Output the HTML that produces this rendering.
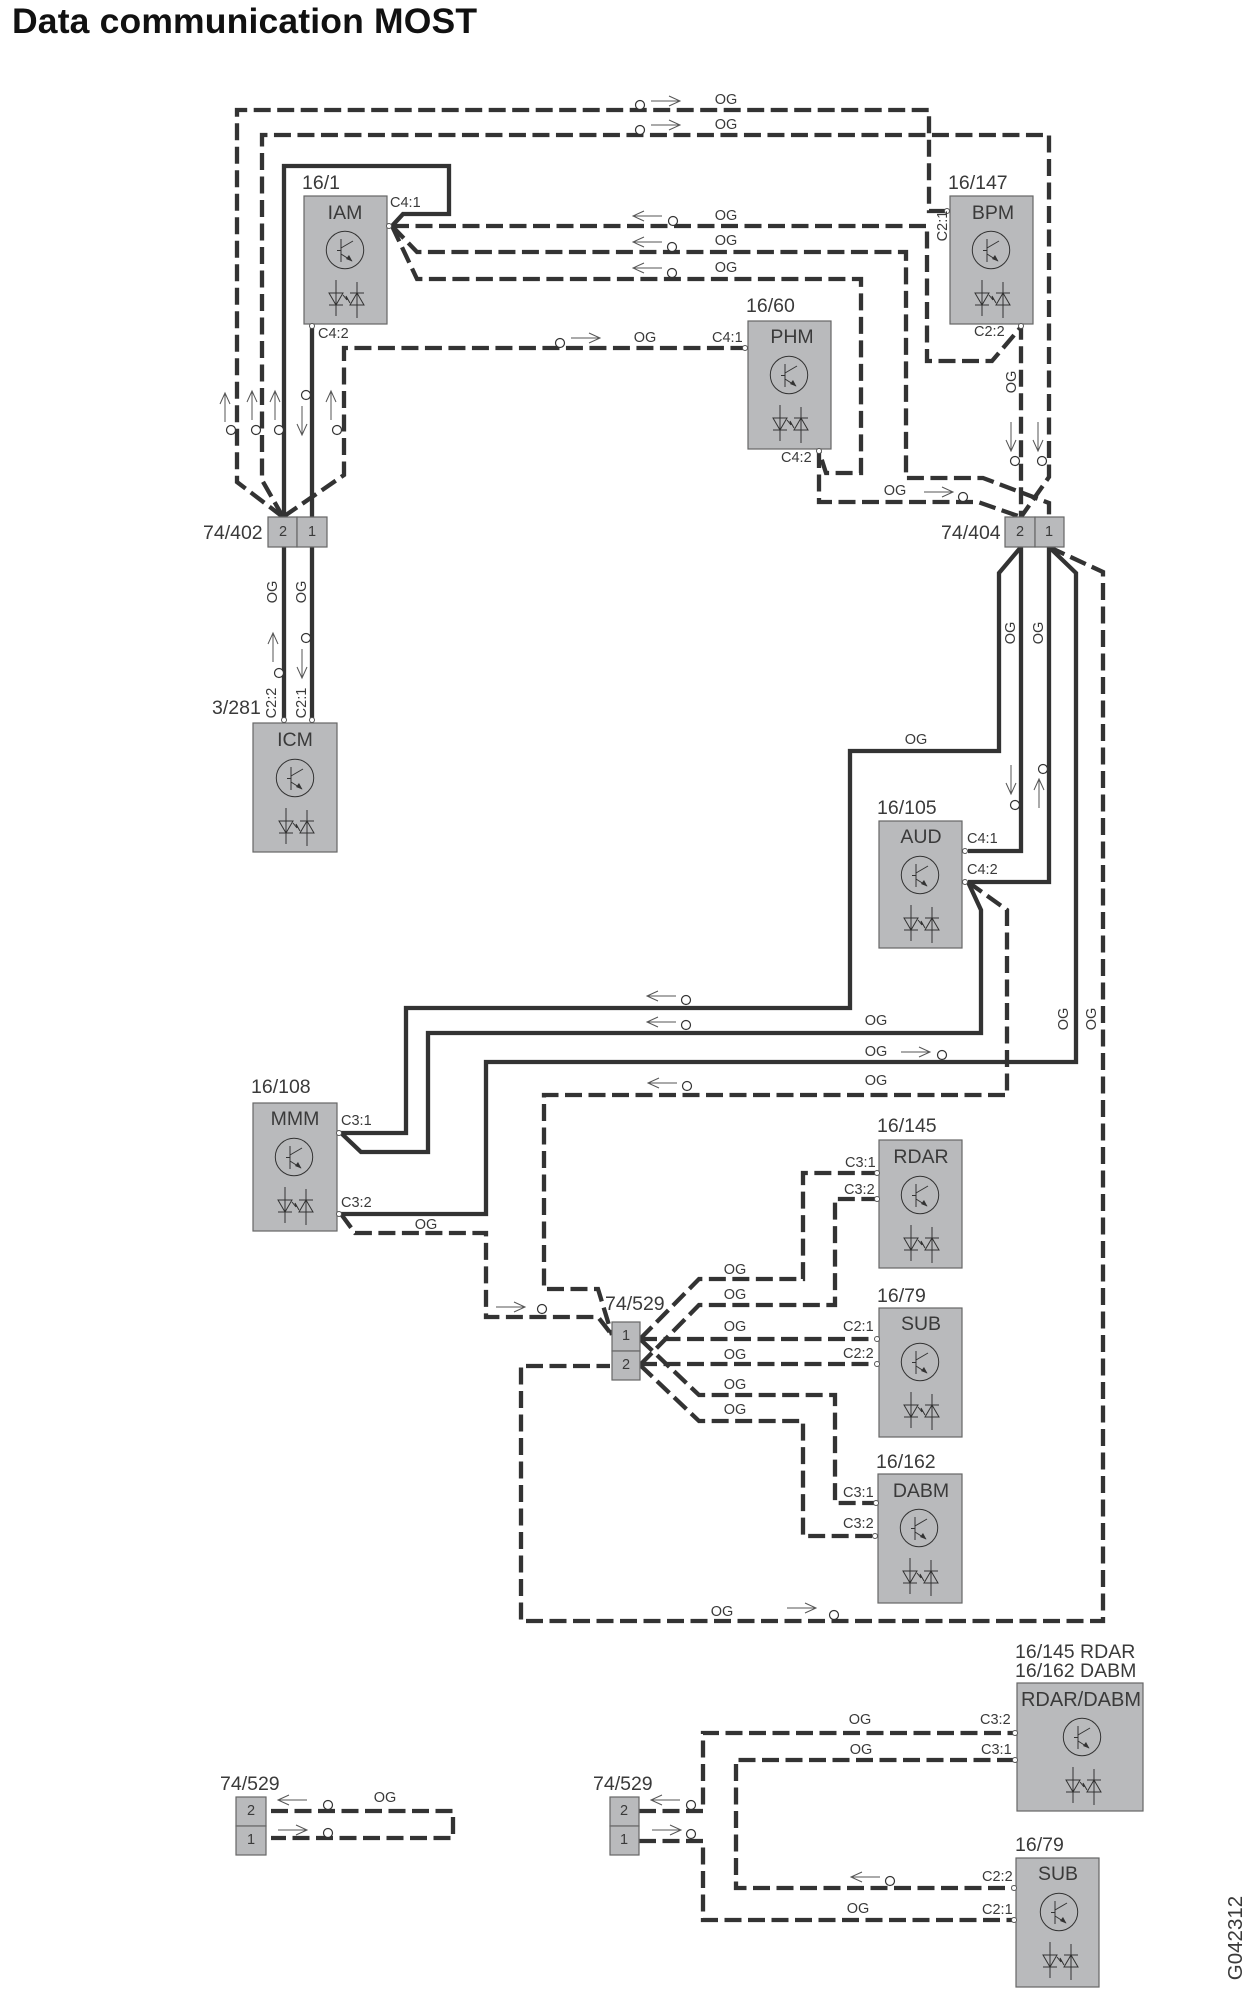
<!DOCTYPE html>
<html><head><meta charset="utf-8"><title>Data communication MOST</title>
<style>
html,body{margin:0;padding:0;background:#fff}
svg{display:block}
text{font-family:"Liberation Sans",sans-serif;fill:#3a3a3a}
.d{fill:none;stroke:#333;stroke-width:4.300;stroke-dasharray:17 6.5}
.s{fill:none;stroke:#333;stroke-width:4.300}
.l{font-size:19.500px}
.n{font-size:19.500px;text-anchor:middle}
.o{font-size:14.500px;text-anchor:middle;dominant-baseline:central}
.c{font-size:14.500px;dominant-baseline:central}
.cc{font-size:14.500px;text-anchor:middle;dominant-baseline:central}
.box{fill:#b9babc;stroke:#666;stroke-width:1.2}
.sig{fill:#fff;stroke:#333;stroke-width:1.2}
.pin{fill:#fff;stroke:#555;stroke-width:1}
.th{fill:none;stroke:#555;stroke-width:1}
.sy{fill:none;stroke:#333;stroke-width:1}
</style></head><body>
<svg width="1260" height="2000" viewBox="0 0 1260 2000" xmlns="http://www.w3.org/2000/svg">
<defs>
<g id="ar"><path class="th" d="M0 0H29M18 -5L29 0L18 5"/></g>
<g id="sym">
<circle class="sy" cx="41" cy="54" r="18.7"/>
<path class="sy" d="M37 43V66M33 54.5H37M37 52L49 45M37 58L48 65"/>
<path d="M48.500 65.500L42 63L45 59Z" fill="#333"/>
<path class="sy" d="M32 84V120M25 97H39L32 109ZM25 109H39M53 86V122M46 109H60L53 97ZM46 97H60M39 99L43 104L42 100L46 107"/>
</g>
</defs>
<text x="12" y="33" font-size="35.500" font-weight="bold" textLength="465" style="fill:#111">Data communication MOST</text>

<!-- wires -->
<path class="d" d="M283 517L237 482V110H929V211H947"/>
<path class="d" d="M283 517L262 480V135H1049V477L1021 517"/>
<path class="s" d="M284 517V166H449V214H403L392 226"/>
<path class="d" d="M392 226H927V361H992L1021 327V517"/>
<path class="d" d="M392 226L417 252H906V478H983L1049 503V517"/>
<path class="d" d="M392 226L417 279H861V473H826L819 451"/>
<path class="d" d="M819 451V502H978L1021 517"/>
<path class="s" d="M312 326V517"/>
<path class="d" d="M283 517L344 475V348H743"/>
<path class="s" d="M284 547V720M312 547V720"/>
<path class="s" d="M1021 547L999 573V751H850V1008H406V1133H341"/>
<path class="s" d="M1021 547V851H968"/>
<path class="s" d="M1049 547V882H968"/>
<path class="s" d="M1049 547L1076 573V1062H486V1214H341"/>
<path class="d" d="M1049 547L1103 572V1621H521V1366H610"/>
<path class="s" d="M968 882L981 910V1033H428V1152H361L341 1133"/>
<path class="d" d="M968 882L1007 910V1095H544V1289H598L612 1335"/>
<path class="d" d="M341 1214L355 1233H486V1317H598L612 1335"/>
<path class="d" d="M640 1339L699 1279H803V1173H875"/>
<path class="d" d="M640 1365L699 1305H835V1199H875"/>
<path class="d" d="M640 1339H875M640 1364H875"/>
<path class="d" d="M640 1339L699 1395H835V1503H875"/>
<path class="d" d="M640 1365L699 1421H803V1536H873"/>
<path class="d" d="M271 1811H453V1838H271"/>
<path class="d" d="M639 1811H703V1733H1014"/>
<path class="d" d="M639 1841H703V1920H1014"/>
<path class="d" d="M1014 1760H736V1888H1014"/>

<!-- modules -->
<rect class="box" x="304" y="196" width="83" height="128"/><use href="#sym" x="304" y="196"/>
<rect class="box" x="950" y="196" width="83" height="128"/><use href="#sym" x="950" y="196"/>
<rect class="box" x="748" y="321" width="83" height="128"/><use href="#sym" x="748" y="321"/>
<rect class="box" x="253" y="723" width="84" height="129"/><use href="#sym" x="254" y="724"/>
<rect class="box" x="879" y="821" width="83" height="127"/><use href="#sym" x="879" y="821"/>
<rect class="box" x="253" y="1103" width="84" height="128"/><use href="#sym" x="253" y="1103"/>
<rect class="box" x="879" y="1140" width="83" height="128"/><use href="#sym" x="879" y="1141"/>
<rect class="box" x="879" y="1308" width="83" height="129"/><use href="#sym" x="879" y="1308"/>
<rect class="box" x="878" y="1474" width="84" height="129"/><use href="#sym" x="878" y="1474"/>
<rect class="box" x="1017" y="1683" width="126" height="128"/><use href="#sym" x="1041" y="1683"/>
<rect class="box" x="1016" y="1858" width="83" height="129"/><use href="#sym" x="1018" y="1858"/>

<!-- connectors -->
<rect class="box" x="268" y="517" width="29" height="30"/><rect class="box" x="297" y="517" width="30" height="30"/>
<rect class="box" x="1005" y="517" width="30" height="30"/><rect class="box" x="1035" y="517" width="29" height="30"/>
<rect class="box" x="612" y="1322" width="28" height="29"/><rect class="box" x="612" y="1351" width="28" height="29"/>
<rect class="box" x="236" y="1797" width="30" height="29"/><rect class="box" x="236" y="1826" width="30" height="29"/>
<rect class="box" x="610" y="1797" width="29" height="29"/><rect class="box" x="610" y="1826" width="29" height="29"/>
<text class="cc" x="283" y="532">2</text><text class="cc" x="312" y="532">1</text>
<text class="cc" x="1020" y="532">2</text><text class="cc" x="1049" y="532">1</text>
<text class="cc" x="626" y="1336">1</text><text class="cc" x="626" y="1365">2</text>
<text class="cc" x="251" y="1811">2</text><text class="cc" x="251" y="1840">1</text>
<text class="cc" x="624" y="1811">2</text><text class="cc" x="624" y="1840">1</text>

<!-- pins -->
<g class="pin">
<circle cx="389" cy="226" r="2.500"/><circle cx="312" cy="326" r="2.500"/><circle cx="947" cy="211" r="2.500"/><circle cx="1021" cy="326" r="2.500"/>
<circle cx="745" cy="348" r="2.500"/><circle cx="819" cy="451" r="2.500"/><circle cx="284" cy="720" r="2.500"/><circle cx="312" cy="720" r="2.500"/>
<circle cx="965" cy="851" r="2.500"/><circle cx="965" cy="882" r="2.500"/><circle cx="339" cy="1133" r="2.500"/><circle cx="339" cy="1214" r="2.500"/>
<circle cx="877" cy="1173" r="2.500"/><circle cx="877" cy="1199" r="2.500"/><circle cx="877" cy="1339" r="2.500"/><circle cx="877" cy="1364" r="2.500"/>
<circle cx="876" cy="1503" r="2.500"/><circle cx="875" cy="1536" r="2.500"/><circle cx="1015" cy="1733" r="2.500"/><circle cx="1015" cy="1760" r="2.500"/>
<circle cx="1014" cy="1888" r="2.500"/><circle cx="1014" cy="1920" r="2.500"/>
</g>

<!-- signal circles -->
<g class="sig">
<circle cx="640" cy="105" r="4.500"/><circle cx="640" cy="130" r="4.500"/><circle cx="673" cy="221" r="4.500"/><circle cx="672" cy="247" r="4.500"/><circle cx="672" cy="273" r="4.500"/>
<circle cx="560" cy="343" r="4.500"/><circle cx="231" cy="430" r="4.500"/><circle cx="256" cy="430" r="4.500"/><circle cx="279" cy="430" r="4.500"/><circle cx="306" cy="395" r="4.500"/><circle cx="337" cy="430" r="4.500"/>
<circle cx="1015" cy="461" r="4.500"/><circle cx="1042" cy="461" r="4.500"/><circle cx="963" cy="497" r="4.500"/>
<circle cx="279" cy="673" r="4.500"/><circle cx="306" cy="638" r="4.500"/>
<circle cx="1015" cy="805" r="4.500"/><circle cx="1043" cy="769" r="4.500"/>
<circle cx="686" cy="1000" r="4.500"/><circle cx="686" cy="1025" r="4.500"/><circle cx="942" cy="1055" r="4.500"/><circle cx="687" cy="1086" r="4.500"/>
<circle cx="542" cy="1309" r="4.500"/><circle cx="834" cy="1615" r="4.500"/>
<circle cx="328" cy="1805" r="4.500"/><circle cx="328" cy="1833" r="4.500"/><circle cx="691" cy="1805" r="4.500"/><circle cx="691" cy="1834" r="4.500"/><circle cx="890" cy="1881" r="4.500"/>
</g>

<!-- arrows -->
<use href="#ar" transform="translate(651 101)"/>
<use href="#ar" transform="translate(651 125)"/>
<use href="#ar" transform="translate(662 216) rotate(180)"/>
<use href="#ar" transform="translate(662 242) rotate(180)"/>
<use href="#ar" transform="translate(662 268) rotate(180)"/>
<use href="#ar" transform="translate(571 338)"/>
<use href="#ar" transform="translate(225 422) rotate(-90)"/>
<use href="#ar" transform="translate(252 420) rotate(-90)"/>
<use href="#ar" transform="translate(275 420) rotate(-90)"/>
<use href="#ar" transform="translate(302 406) rotate(90)"/>
<use href="#ar" transform="translate(331 420) rotate(-90)"/>
<use href="#ar" transform="translate(1011 422) rotate(90)"/>
<use href="#ar" transform="translate(1038 422) rotate(90)"/>
<use href="#ar" transform="translate(924 492)"/>
<use href="#ar" transform="translate(273 662) rotate(-90)"/>
<use href="#ar" transform="translate(302 649) rotate(90)"/>
<use href="#ar" transform="translate(1011 765) rotate(90)"/>
<use href="#ar" transform="translate(1039 808) rotate(-90)"/>
<use href="#ar" transform="translate(676 996) rotate(180)"/>
<use href="#ar" transform="translate(676 1022) rotate(180)"/>
<use href="#ar" transform="translate(901 1052)"/>
<use href="#ar" transform="translate(677 1083) rotate(180)"/>
<use href="#ar" transform="translate(496 1307)"/>
<use href="#ar" transform="translate(787 1608)"/>
<use href="#ar" transform="translate(307 1800) rotate(180)"/>
<use href="#ar" transform="translate(278 1830)"/>
<use href="#ar" transform="translate(680 1800) rotate(180)"/>
<use href="#ar" transform="translate(652 1830)"/>
<use href="#ar" transform="translate(880 1877) rotate(180)"/>

<!-- OG labels -->
<text class="o" x="726" y="100">OG</text><text class="o" x="726" y="125">OG</text>
<text class="o" x="726" y="216">OG</text><text class="o" x="726" y="241">OG</text><text class="o" x="726" y="268">OG</text>
<text class="o" x="645" y="338">OG</text><text class="o" x="895" y="491">OG</text>
<text class="o" transform="rotate(-90 1012 382)" x="1012" y="382">OG</text>
<text class="o" transform="rotate(-90 273 592)" x="273" y="592">OG</text>
<text class="o" transform="rotate(-90 302 592)" x="302" y="592">OG</text>
<text class="o" x="916" y="740">OG</text>
<text class="o" transform="rotate(-90 1011 633)" x="1011" y="633">OG</text>
<text class="o" transform="rotate(-90 1039 633)" x="1039" y="633">OG</text>
<text class="o" transform="rotate(-90 1064 1019)" x="1064" y="1019">OG</text>
<text class="o" transform="rotate(-90 1092 1019)" x="1092" y="1019">OG</text>
<text class="o" x="876" y="1021">OG</text><text class="o" x="876" y="1052">OG</text><text class="o" x="876" y="1081">OG</text>
<text class="o" x="426" y="1225">OG</text>
<text class="o" x="735" y="1270">OG</text><text class="o" x="735" y="1295">OG</text><text class="o" x="735" y="1327">OG</text><text class="o" x="735" y="1355">OG</text><text class="o" x="735" y="1385">OG</text><text class="o" x="735" y="1410">OG</text>
<text class="o" x="722" y="1612">OG</text>
<text class="o" x="385" y="1798">OG</text>
<text class="o" x="860" y="1720">OG</text><text class="o" x="861" y="1750">OG</text><text class="o" x="858" y="1909">OG</text>

<!-- pin labels -->
<text class="c" x="390" y="203">C4:1</text><text class="c" x="318" y="334">C4:2</text>
<text class="cc" transform="rotate(-90 943 226)" x="943" y="226">C2:1</text>
<text class="c" x="974" y="332">C2:2</text>
<text class="c" x="712" y="338">C4:1</text><text class="c" x="781" y="458">C4:2</text>
<text class="cc" transform="rotate(-90 272 703)" x="272" y="703">C2:2</text>
<text class="cc" transform="rotate(-90 302 703)" x="302" y="703">C2:1</text>
<text class="c" x="967" y="839">C4:1</text><text class="c" x="967" y="870">C4:2</text>
<text class="c" x="341" y="1121">C3:1</text><text class="c" x="341" y="1203">C3:2</text>
<text class="c" x="845" y="1163">C3:1</text><text class="c" x="844" y="1190">C3:2</text>
<text class="c" x="843" y="1327">C2:1</text><text class="c" x="843" y="1354">C2:2</text>
<text class="c" x="843" y="1493">C3:1</text><text class="c" x="843" y="1524">C3:2</text>
<text class="c" x="980" y="1720">C3:2</text><text class="c" x="981" y="1750">C3:1</text>
<text class="c" x="982" y="1877">C2:2</text><text class="c" x="982" y="1910">C2:1</text>

<!-- device labels -->
<text class="l" x="302" y="189">16/1</text><text class="l" x="948" y="189">16/147</text><text class="l" x="746" y="312">16/60</text>
<text class="l" x="203" y="539">74/402</text><text class="l" x="941" y="539">74/404</text><text class="l" x="212" y="714">3/281</text>
<text class="l" x="877" y="814">16/105</text><text class="l" x="251" y="1093">16/108</text>
<text class="l" x="605" y="1310">74/529</text>
<text class="l" x="877" y="1132">16/145</text><text class="l" x="877" y="1302">16/79</text><text class="l" x="876" y="1468">16/162</text>
<text class="l" x="220" y="1790">74/529</text><text class="l" x="593" y="1790">74/529</text>
<text class="l" x="1015" y="1658">16/145 RDAR</text><text class="l" x="1015" y="1677">16/162 DABM</text><text class="l" x="1015" y="1851">16/79</text>
<text class="n" x="345" y="219">IAM</text><text class="n" x="993" y="219">BPM</text><text class="n" x="792" y="343">PHM</text>
<text class="n" x="295" y="746">ICM</text><text class="n" x="921" y="843">AUD</text><text class="n" x="295" y="1125">MMM</text>
<text class="n" x="921" y="1163">RDAR</text><text class="n" x="921" y="1330">SUB</text><text class="n" x="921" y="1497">DABM</text>
<text class="n" x="1081" y="1706" style="font-size:20px">RDAR/DABM</text><text class="n" x="1058" y="1880">SUB</text>
<text transform="rotate(-90 1242 1938)" x="1242" y="1938" font-size="20.500" text-anchor="middle">G042312</text>
</svg>
</body></html>
